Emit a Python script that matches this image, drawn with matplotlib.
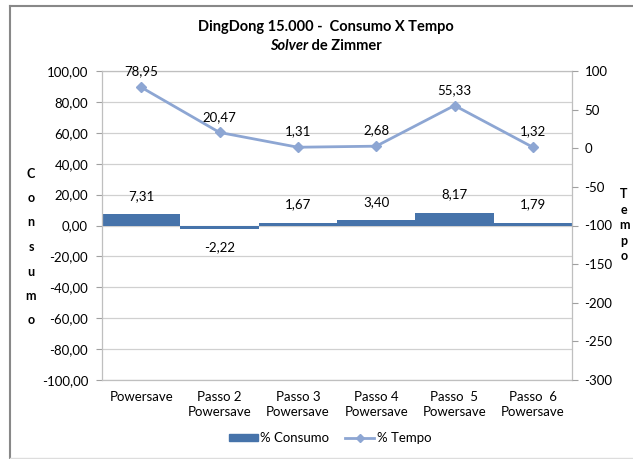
import matplotlib
matplotlib.use("Agg")
import matplotlib.pyplot as plt
from matplotlib.lines import Line2D

categories = ["Powersave", "Passo 2\nPowersave", "Passo 3\nPowersave",
              "Passo 4\nPowersave", "Passo  5\nPowersave", "Passo  6\nPowersave"]
consumo = [7.31, -2.22, 1.67, 3.40, 8.17, 1.79]
tempo = [78.95, 20.47, 1.31, 2.68, 55.33, 1.32]

left_ticks = list(range(-100, 101, 20))
right_ticks = list(range(-300, 101, 50))

BAR_COLOR = "#4673AA"
LINE_COLOR = "#8DA6D3"
GRID_COLOR = "#D0D0D0"
FONT = "Lato"


def br(v):
    return f"{v:.2f}".replace(".", ",")


plt.rcParams.update({
    "font.family": FONT,
    "font.size": 9,
    "axes.unicode_minus": False,
})

W, H = 633, 459
fig = plt.figure(figsize=(W / 100, H / 100), dpi=100)

# plot area in pixels: x 102..572, y 71..380
x0, x1, y0, y1 = 102, 572, 71, 380
ax = fig.add_axes([x0 / W, 1 - y1 / H, (x1 - x0) / W, (y1 - y0) / H])
ax2 = ax.twinx()

xs = list(range(len(categories)))
ax.bar(xs, consumo, width=1.0, color=BAR_COLOR, label="% Consumo", zorder=2)
ax.set_xlim(-0.5, len(categories) - 0.5)
ax.set_ylim(-100, 100)
ax.set_yticks(left_ticks)
ax.set_yticklabels([br(t) for t in left_ticks])
ax.yaxis.grid(True, color=GRID_COLOR, linewidth=0.9)
ax.set_axisbelow(True)
ax.set_xticks(xs)
ax.set_xticklabels(categories, linespacing=1.3, fontsize=9.5)
ax.tick_params(axis="x", length=0, pad=8)
ax.tick_params(axis="y", length=4, color="#A0A0A0", pad=6, labelsize=9.5)
for s in ax.spines.values():
    s.set_color("#BFBFBF")
    s.set_linewidth(0.9)

for x, v in zip(xs, consumo):
    off = 9 if v >= 0 else -9
    ax.annotate(br(v), (x, v), xytext=(0, off), textcoords="offset points",
                ha="center", va="bottom" if v >= 0 else "top", fontsize=9.5)

ax2.plot(xs, tempo, color=LINE_COLOR, linewidth=2, marker="D", markersize=5.5,
         label="% Tempo", zorder=3)
ax2.set_ylim(-300, 100)
ax2.set_yticks(right_ticks)
ax2.tick_params(axis="y", length=4, color="#A0A0A0", pad=5, labelsize=9.5)
for s in ax2.spines.values():
    s.set_visible(False)
for x, v in zip(xs, tempo):
    ax2.annotate(br(v), (x, v), xytext=(0, 7), textcoords="offset points",
                 ha="center", va="bottom", fontsize=9.5)

fig.text(326 / W, 1 - 27 / H, "DingDong 15.000 -  Consumo X Tempo",
         ha="center", va="center", fontsize=10.5, fontweight="bold")

# second title line: italic "Solver" + bold " de Zimmer", centred as one piece
r = fig.canvas.get_renderer()
t1 = fig.text(0, 1 - 46 / H, "Solver", ha="left", va="center", fontsize=10.5,
              fontweight="bold", fontstyle="italic")
t2 = fig.text(0, 1 - 46 / H, " de Zimmer", ha="left", va="center", fontsize=10.5,
              fontweight="bold")
w1 = t1.get_window_extent(r).width
w2 = t2.get_window_extent(r).width
start = 326 - (w1 + w2) / 2
t1.set_x(start / W)
t2.set_x((start + w1) / W)

fig.text(31 / W, 1 - 247 / H, "\n".join("Consumo"), ha="center", va="center",
         fontsize=9, fontweight="bold", linespacing=2.25)
fig.text(624 / W, 1 - 225 / H, "\n".join("Tempo"), ha="center", va="center",
         fontsize=9, fontweight="bold", linespacing=1.35)

handles = [plt.Rectangle((0, 0), 1, 1, color=BAR_COLOR),
           Line2D([], [], color=LINE_COLOR, linewidth=2, marker="D", markersize=4)]
fig.legend(handles, ["% Consumo", "% Tempo"], loc="center",
           bbox_to_anchor=(330 / W, 1 - 438 / H), ncol=2, frameon=False,
           fontsize=9.5, handlelength=2.2, handleheight=0.5, handletextpad=0.2,
           columnspacing=1.2)

# chart frame
fig.add_artist(Line2D([10 / W, 10 / W], [1 - 6 / H, 1 - 458 / H], color="#888888", linewidth=1.5))
fig.add_artist(Line2D([10 / W, 1], [1 - 6 / H, 1 - 6 / H], color="#888888", linewidth=1.5))
fig.add_artist(Line2D([10 / W, 1], [1 - 458 / H, 1 - 458 / H], color="#DDDDDD", linewidth=1))

fig.savefig("out.png", dpi=100)
